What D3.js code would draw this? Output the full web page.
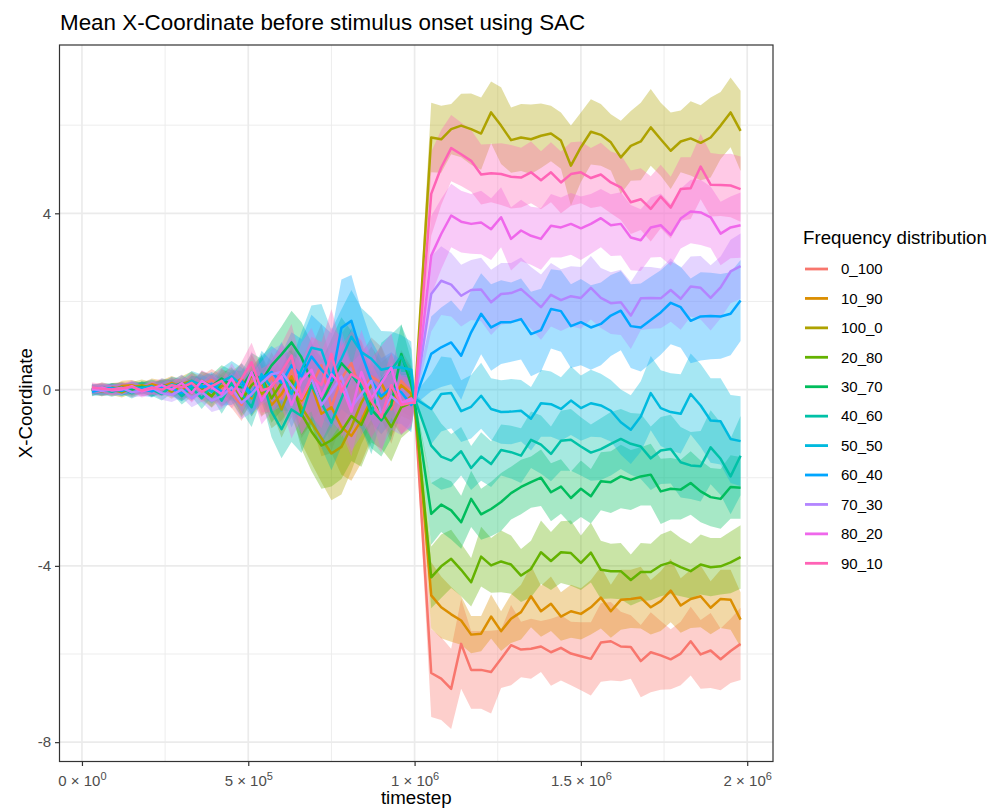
<!DOCTYPE html>
<html>
<head>
<meta charset="utf-8">
<script src="https://cdn.jsdelivr.net/npm/d3@7"></script>
<style>
body { margin: 0; background: #fff; }
text { font-family: "Liberation Sans", Arial, Helvetica, sans-serif; }
</style>
</head>
<body>
<div id="chart-area"></div>
<script>
// DATA
var groups = ['0_100', '10_90', '100_0', '20_80', '30_70', '40_60', '50_50', '60_40', '70_30', '80_20', '90_10'];
var colors = ['#F8766D', '#DB8E00', '#AEA200', '#64B200', '#00BD5C', '#00C1A7', '#00BADE', '#00A6FF', '#B385FF', '#EF67EB', '#FF63B6'];

var yTicks = [-8, -4, 0, 4];
var yMinor = [-6, -2, 2, 6];
var xTicks = [0, 500000, 1000000, 1500000, 2000000];
var xMinor = [250000, 750000, 1250000, 1750000];

var timesteps = [30000, 60000, 90000, 120000, 150000, 180000, 210000, 240000, 270000, 300000,
	330000, 360000, 390000, 420000, 450000, 480000, 510000, 540000, 570000, 600000,
	630000, 660000, 690000, 720000, 750000, 780000, 810000, 840000, 870000, 900000,
	930000, 960000, 990000, 1000000,
	1050000, 1080000, 1110000, 1140000, 1170000, 1200000, 1230000, 1260000, 1290000, 1320000,
	1350000, 1380000, 1410000, 1440000, 1470000, 1500000, 1530000, 1560000, 1590000, 1620000,
	1650000, 1680000, 1710000, 1740000, 1770000, 1800000, 1830000, 1860000, 1890000, 1920000,
	1950000, 1980000];

// mean X-coordinate per group
var mean0_100 = [0.02, -0.05, 0.03, 0.06, -0.02, 0.04, 0.08, 0.05, 0.12, -0.05, 0.18, 0.10, 0.22, 0.05, -0.10, -0.35, 0.20, -0.15, 0.30, -0.20, 0.45, -0.30, 0.10, 0.55, -0.40, 0.25, 0.60, -0.10, 0.30, 0.15, -0.45, 0.20, -0.05, -0.30,
	-6.43, -6.56, -6.79, -5.77, -6.36, -6.36, -6.41, -6.11, -5.80, -5.90, -5.88, -5.83, -5.96, -5.86, -5.99, -6.05, -6.11, -5.74, -5.71, -5.83, -5.84, -6.16, -5.96, -6.03, -6.12, -5.99, -5.71, -6.01, -5.92, -6.12, -5.93, -5.77];
var mean10_90 = [0.00, 0.03, -0.04, 0.08, 0.10, 0.02, 0.12, 0.06, 0.15, 0.05, -0.08, 0.20, 0.08, -0.12, 0.10, 0.25, -0.20, 0.15, -0.35, -0.10, 0.30, -0.25, 0.10, -0.55, -0.40, -0.85, -1.05, -0.70, -0.20, 0.15, -0.30, 0.10, -0.10, -0.25,
	-4.67, -4.94, -5.10, -5.24, -5.56, -5.54, -5.15, -5.48, -5.20, -5.05, -4.69, -5.03, -4.86, -5.15, -5.03, -5.09, -4.94, -4.72, -5.03, -4.77, -4.75, -4.72, -4.94, -4.80, -4.56, -4.90, -4.75, -4.69, -4.95, -4.75, -4.77, -5.22];
var mean100_0 = [-0.03, 0.05, 0.00, -0.06, 0.04, 0.10, 0.03, 0.07, -0.05, 0.12, 0.20, 0.00, -0.15, 0.08, 0.18, -0.20, 0.35, -0.10, 0.10, -0.45, 0.10, -0.40, -0.75, -1.10, -1.45, -1.30, -0.85, -0.30, 0.10, -0.20, 0.05, -0.35, -0.15, -0.30,
	5.72, 5.68, 5.91, 5.99, 5.91, 5.81, 6.29, 5.99, 5.66, 5.72, 5.68, 5.76, 5.81, 5.65, 5.08, 5.50, 5.85, 5.78, 5.61, 5.27, 5.53, 5.63, 5.95, 5.68, 5.42, 5.63, 5.70, 5.60, 5.72, 5.99, 6.29, 5.87];
var mean20_80 = [0.01, -0.03, 0.04, 0.02, -0.05, 0.06, -0.02, 0.09, 0.04, -0.08, 0.12, 0.03, -0.15, 0.18, 0.05, -0.25, 0.10, 0.30, -0.20, 0.15, 0.20, -0.55, -0.95, -1.27, -1.15, -0.95, -0.60, -0.80, -0.30, -0.50, -0.85, -0.40, -0.30, -0.30,
	-4.26, -4.01, -3.84, -4.09, -4.37, -3.79, -3.99, -3.90, -3.97, -4.22, -4.07, -3.69, -3.89, -3.69, -3.71, -3.93, -3.70, -4.09, -4.12, -4.12, -4.32, -4.14, -4.14, -3.99, -3.92, -4.03, -4.12, -3.97, -4.03, -4.01, -3.92, -3.80];
var mean30_70 = [0.00, -0.04, 0.02, 0.05, 0.00, 0.06, -0.03, 0.10, 0.05, 0.15, -0.02, 0.18, 0.08, 0.25, 0.10, 0.05, 0.40, 0.20, 0.55, 0.80, 1.07, 0.73, 0.20, -0.30, 0.15, 0.60, 0.35, 0.05, -0.45, -0.70, -0.35, 0.81, 0.10, -0.25,
	-2.82, -2.61, -2.74, -3.01, -2.48, -2.83, -2.71, -2.55, -2.35, -2.21, -2.10, -2.00, -2.33, -2.20, -2.46, -2.25, -2.42, -2.08, -2.10, -1.97, -2.05, -1.97, -1.93, -2.31, -2.25, -2.27, -2.12, -2.31, -2.44, -2.48, -2.21, -2.23];
var mean40_60 = [0.03, 0.00, -0.05, 0.02, -0.08, 0.05, 0.00, -0.10, 0.08, -0.15, 0.05, -0.20, 0.10, -0.25, 0.15, -0.10, -0.40, 0.30, -0.50, -0.90, -0.45, -0.60, 0.10, -0.30, -0.75, -0.20, 0.35, 0.10, -0.55, 0.20, 0.45, 0.75, 0.30, -0.20,
	-1.27, -1.52, -1.61, -1.40, -1.78, -1.52, -1.69, -1.37, -1.42, -1.50, -1.14, -1.25, -1.46, -1.16, -1.14, -1.29, -1.43, -1.35, -1.23, -1.12, -1.23, -1.29, -1.56, -1.38, -1.35, -1.65, -1.72, -1.74, -1.31, -1.57, -1.97, -1.50];
var mean50_50 = [0.00, 0.04, 0.02, -0.03, 0.06, 0.03, 0.08, 0.00, 0.12, 0.05, 0.20, 0.10, -0.05, 0.18, 0.30, 0.10, -0.15, 0.35, 0.05, 0.40, -0.10, 0.45, 0.95, 0.90, 0.25, 0.70, 1.20, 0.85, 0.70, 0.45, 0.50, 0.50, 0.45, -0.20,
	-0.44, -0.10, -0.08, -0.49, -0.39, -0.14, -0.44, -0.51, -0.50, -0.48, -0.66, -0.31, -0.33, -0.44, -0.25, -0.42, -0.31, -0.36, -0.48, -0.74, -0.91, -0.61, -0.08, -0.42, -0.51, -0.55, -0.10, -0.36, -0.70, -0.72, -1.12, -1.17];
var mean60_40 = [-0.05, 0.00, 0.03, -0.02, 0.05, 0.00, -0.04, 0.06, 0.02, -0.08, 0.10, 0.05, 0.13, -0.05, 0.00, 0.20, -0.10, 0.25, 0.40, 0.15, 0.55, 0.30, 0.75, 0.45, 0.20, 1.40, 1.56, 0.82, 0.20, -0.15, 0.05, -0.06, -0.35, -0.25,
	0.81, 0.96, 1.07, 0.77, 1.30, 1.72, 1.41, 1.53, 1.53, 1.60, 1.26, 1.35, 1.83, 1.78, 1.44, 1.53, 1.41, 1.49, 1.68, 1.79, 1.44, 1.41, 1.58, 1.75, 1.97, 1.87, 1.56, 1.66, 1.67, 1.66, 1.72, 2.02];
var mean70_30 = [0.02, -0.03, 0.00, 0.04, -0.06, -0.02, 0.05, -0.08, -0.12, 0.00, -0.20, -0.05, -0.25, -0.15, 0.05, -0.30, -0.10, 0.15, 0.35, 0.40, 0.10, -0.20, 0.25, -0.35, -0.05, 0.30, -0.40, -0.10, 0.20, -0.55, -0.15, -0.35, -0.25, -0.30,
	2.17, 2.47, 2.38, 2.13, 2.26, 2.27, 1.98, 2.17, 2.19, 2.28, 2.08, 1.87, 2.15, 2.03, 2.12, 2.08, 2.31, 2.08, 1.96, 1.98, 1.68, 2.07, 2.08, 2.07, 2.26, 2.06, 2.34, 2.31, 2.08, 2.32, 2.68, 2.80];
var mean80_20 = [0.00, 0.05, -0.02, 0.00, 0.08, -0.04, 0.02, 0.10, 0.00, 0.15, -0.08, 0.20, 0.05, -0.10, 0.25, -0.15, 0.40, -0.25, 0.10, 0.30, -0.35, 0.20, 0.45, -0.15, 0.35, 0.10, -0.50, 0.40, -0.20, 0.15, 0.50, -0.30, -0.20, -0.30,
	3.04, 3.53, 3.95, 3.81, 3.76, 3.79, 3.64, 3.91, 3.42, 3.61, 3.49, 3.42, 3.72, 3.68, 3.76, 3.66, 3.76, 3.89, 3.73, 3.76, 3.45, 3.39, 3.68, 3.73, 3.51, 3.88, 4.04, 4.02, 3.91, 3.54, 3.68, 3.73];
var mean90_10 = [0.05, 0.02, 0.00, 0.03, 0.06, -0.02, 0.04, 0.00, 0.10, 0.05, 0.15, -0.05, 0.08, 0.20, -0.10, 0.25, 0.62, -0.02, 0.05, 0.40, 0.77, -0.20, 0.30, 0.10, 0.81, -0.05, 0.35, 0.20, -0.25, -0.63, 0.10, -0.35, -0.30, -0.30,
	4.44, 5.04, 5.48, 5.34, 5.19, 4.88, 4.91, 4.89, 4.83, 4.81, 4.93, 4.75, 4.93, 4.70, 4.89, 4.93, 4.80, 4.88, 4.70, 4.59, 4.25, 4.32, 4.10, 4.38, 4.13, 4.55, 4.57, 5.06, 4.65, 4.64, 4.63, 4.55];

// half width of the ribbon per group
var se0_100 = [0.11, 0.10, 0.12, 0.11, 0.12, 0.13, 0.14, 0.14, 0.16, 0.18, 0.20, 0.22, 0.25, 0.28, 0.32, 0.36, 0.42, 0.48, 0.55, 0.62, 0.70, 0.80, 0.86, 0.95, 1.00, 1.02, 0.98, 0.92, 0.88, 0.82, 0.78, 0.70, 0.58, 0.10,
	1.00, 0.94, 0.91, 1.02, 0.88, 0.88, 0.94, 0.66, 0.91, 0.63, 0.68, 0.58, 0.76, 0.74, 0.72, 0.77, 0.83, 0.89, 0.89, 0.79, 0.72, 0.82, 0.91, 0.78, 0.68, 0.72, 0.78, 0.78, 0.85, 0.70, 0.73, 0.82];
var se10_90 = [0.10, 0.11, 0.11, 0.12, 0.12, 0.13, 0.13, 0.15, 0.16, 0.17, 0.19, 0.22, 0.24, 0.27, 0.31, 0.35, 0.41, 0.47, 0.53, 0.60, 0.69, 0.78, 0.88, 0.96, 1.04, 1.08, 1.02, 0.96, 0.90, 0.84, 0.78, 0.70, 0.60, 0.10,
	0.75, 0.70, 0.62, 0.55, 0.42, 0.40, 0.50, 0.45, 0.55, 0.62, 0.70, 0.58, 0.62, 0.55, 0.60, 0.58, 0.62, 0.70, 0.60, 0.68, 0.66, 0.70, 0.62, 0.68, 0.72, 0.62, 0.66, 0.70, 0.60, 0.66, 0.68, 0.62];
var se100_0 = [0.12, 0.11, 0.12, 0.12, 0.13, 0.13, 0.14, 0.15, 0.16, 0.18, 0.21, 0.23, 0.26, 0.29, 0.33, 0.38, 0.44, 0.50, 0.57, 0.64, 0.72, 0.82, 0.92, 1.00, 1.06, 1.08, 1.00, 0.94, 0.88, 0.82, 0.76, 0.68, 0.58, 0.10,
	0.79, 0.76, 0.57, 0.72, 0.81, 0.82, 0.70, 0.87, 0.74, 0.76, 0.79, 0.73, 0.63, 0.64, 0.91, 0.79, 0.74, 0.70, 0.64, 0.83, 0.79, 0.88, 0.87, 0.83, 0.87, 0.70, 0.84, 0.85, 0.91, 0.76, 0.79, 0.91];
var se20_80 = [0.10, 0.10, 0.11, 0.12, 0.12, 0.13, 0.14, 0.14, 0.16, 0.18, 0.20, 0.22, 0.25, 0.28, 0.32, 0.37, 0.42, 0.48, 0.55, 0.62, 0.70, 0.80, 0.90, 0.98, 1.05, 1.08, 1.02, 0.95, 0.90, 0.84, 0.78, 0.70, 0.60, 0.10,
	0.70, 0.72, 0.66, 0.60, 0.55, 0.68, 0.62, 0.70, 0.66, 0.60, 0.64, 0.72, 0.66, 0.70, 0.74, 0.62, 0.68, 0.66, 0.62, 0.64, 0.58, 0.66, 0.64, 0.70, 0.72, 0.66, 0.62, 0.68, 0.66, 0.64, 0.70, 0.72];
var se30_70 = [0.11, 0.11, 0.12, 0.11, 0.13, 0.12, 0.14, 0.15, 0.17, 0.18, 0.21, 0.23, 0.26, 0.30, 0.34, 0.38, 0.43, 0.50, 0.56, 0.63, 0.72, 0.80, 0.88, 0.94, 1.00, 1.04, 0.98, 0.94, 0.88, 0.82, 0.76, 0.68, 0.56, 0.10,
	0.70, 0.62, 0.66, 0.60, 0.64, 0.58, 0.62, 0.66, 0.60, 0.62, 0.58, 0.64, 0.66, 0.62, 0.60, 0.64, 0.62, 0.66, 0.70, 0.72, 0.68, 0.66, 0.70, 0.74, 0.70, 0.68, 0.72, 0.70, 0.66, 0.68, 0.72, 0.70];
var se40_60 = [0.10, 0.11, 0.11, 0.12, 0.12, 0.14, 0.14, 0.15, 0.17, 0.19, 0.21, 0.24, 0.27, 0.30, 0.34, 0.39, 0.45, 0.52, 0.58, 0.66, 0.74, 0.84, 0.94, 1.02, 1.08, 1.10, 1.04, 0.98, 0.92, 0.86, 0.80, 0.72, 0.62, 0.10,
	0.85, 0.75, 0.60, 0.55, 0.50, 0.55, 0.52, 0.58, 0.60, 0.62, 0.64, 0.66, 0.62, 0.68, 0.70, 0.66, 0.64, 0.70, 0.72, 0.68, 0.70, 0.74, 0.72, 0.76, 0.78, 0.80, 0.76, 0.80, 0.84, 0.82, 0.86, 0.90];
var se50_50 = [0.11, 0.10, 0.12, 0.12, 0.13, 0.13, 0.15, 0.15, 0.17, 0.19, 0.22, 0.24, 0.27, 0.31, 0.35, 0.40, 0.46, 0.53, 0.60, 0.68, 0.76, 0.86, 0.96, 1.04, 1.10, 1.12, 1.06, 1.00, 0.94, 0.88, 0.82, 0.74, 0.64, 0.10,
	0.80, 0.85, 0.80, 0.70, 0.72, 0.75, 0.70, 0.72, 0.74, 0.70, 0.72, 0.76, 0.74, 0.72, 0.78, 0.74, 0.76, 0.72, 0.70, 0.74, 0.78, 0.80, 0.84, 0.86, 0.88, 0.90, 0.92, 0.94, 0.96, 0.98, 1.00, 1.02];
var se60_40 = [0.10, 0.11, 0.11, 0.12, 0.13, 0.13, 0.14, 0.15, 0.17, 0.19, 0.21, 0.24, 0.27, 0.31, 0.35, 0.40, 0.46, 0.52, 0.59, 0.67, 0.75, 0.85, 0.95, 1.03, 1.08, 1.10, 1.04, 0.98, 0.92, 0.86, 0.80, 0.72, 0.62, 0.10,
	0.85, 0.90, 0.95, 1.00, 0.95, 0.92, 0.98, 0.95, 0.90, 0.92, 0.96, 0.94, 0.90, 0.92, 0.95, 0.98, 0.96, 0.94, 0.92, 0.90, 0.95, 1.00, 0.98, 0.96, 0.94, 0.92, 0.96, 1.00, 0.98, 0.96, 0.94, 0.92];
var se70_30 = [0.11, 0.11, 0.12, 0.12, 0.12, 0.13, 0.14, 0.15, 0.16, 0.18, 0.20, 0.23, 0.26, 0.29, 0.33, 0.37, 0.43, 0.49, 0.56, 0.63, 0.71, 0.81, 0.90, 0.98, 1.04, 1.06, 1.00, 0.94, 0.88, 0.82, 0.76, 0.68, 0.58, 0.10,
	0.85, 0.78, 0.72, 0.70, 0.68, 0.72, 0.74, 0.70, 0.68, 0.72, 0.70, 0.74, 0.72, 0.70, 0.68, 0.70, 0.72, 0.68, 0.70, 0.74, 0.76, 0.72, 0.70, 0.68, 0.72, 0.70, 0.68, 0.72, 0.74, 0.70, 0.72, 0.74];
var se80_20 = [0.10, 0.11, 0.12, 0.12, 0.13, 0.14, 0.14, 0.16, 0.17, 0.19, 0.22, 0.24, 0.28, 0.31, 0.35, 0.40, 0.47, 0.54, 0.61, 0.68, 0.76, 0.86, 0.95, 1.02, 1.06, 1.08, 1.02, 0.96, 0.90, 0.84, 0.78, 0.70, 0.60, 0.10,
	0.90, 0.80, 0.72, 0.70, 0.68, 0.72, 0.70, 0.68, 0.72, 0.70, 0.66, 0.70, 0.72, 0.68, 0.70, 0.72, 0.68, 0.66, 0.70, 0.72, 0.74, 0.70, 0.68, 0.72, 0.70, 0.68, 0.72, 0.74, 0.70, 0.72, 0.70, 0.74];
var se90_10 = [0.11, 0.11, 0.11, 0.12, 0.12, 0.13, 0.14, 0.15, 0.16, 0.18, 0.21, 0.23, 0.26, 0.29, 0.33, 0.38, 0.44, 0.50, 0.56, 0.64, 0.72, 0.82, 0.90, 0.98, 1.02, 1.04, 0.98, 0.92, 0.86, 0.80, 0.74, 0.66, 0.56, 0.10,
	0.95, 0.85, 0.75, 0.72, 0.70, 0.68, 0.66, 0.70, 0.72, 0.68, 0.70, 0.66, 0.68, 0.70, 0.72, 0.70, 0.68, 0.72, 0.70, 0.74, 0.72, 0.70, 0.74, 0.72, 0.70, 0.72, 0.70, 0.74, 0.72, 0.70, 0.72, 0.74];

var meanList = [mean0_100, mean10_90, mean100_0, mean20_80, mean30_70, mean40_60, mean50_50, mean60_40, mean70_30, mean80_20, mean90_10];
var seList = [se0_100, se10_90, se100_0, se20_80, se30_70, se40_60, se50_50, se60_40, se70_30, se80_20, se90_10];

var series = groups.map(function (g, i) {
	return {
		name: g,
		color: colors[i],
		values: timesteps.map(function (t, j) {
			return { t: t, m: meanList[i][j], lo: meanList[i][j] - seList[i][j], hi: meanList[i][j] + seList[i][j] };
		})
	};
});

//INITIAL SETUP
var margin = { top: 45, left: 59.5 };
var width = 713.5;
var height = 716.5;

var svg = d3.select('#chart-area')
	.append('svg')
	.attr('width', 987)
	.attr('height', 811);

var graph = svg.append('g')
	.attr('transform', 'translate(' + margin.left + ',' + margin.top + ')');

//SCALES (ggplot style 5% expansion)
var xExt = d3.extent(timesteps);
var xPad = (xExt[1] - xExt[0]) * 0.05;
var x = d3.scaleLinear()
	.domain([xExt[0] - xPad, xExt[1] + xPad])
	.range([0, width]);

var yMin = d3.min(series, function (s) { return d3.min(s.values, function (d) { return d.lo; }); });
var yMax = d3.max(series, function (s) { return d3.max(s.values, function (d) { return d.hi; }); });
var yPad = (yMax - yMin) * 0.05;
var y = d3.scaleLinear()
	.domain([yMin - yPad, yMax + yPad])
	.range([height, 0]);

//GRID
graph.append('rect')
	.attr('width', width)
	.attr('height', height)
	.attr('fill', '#fff');

graph.selectAll('.ygrid-minor').data(yMinor).enter().append('line')
	.attr('x1', 0).attr('x2', width)
	.attr('y1', function (d) { return y(d); }).attr('y2', function (d) { return y(d); })
	.attr('stroke', '#EBEBEB').attr('stroke-width', 0.9);
graph.selectAll('.xgrid-minor').data(xMinor).enter().append('line')
	.attr('y1', 0).attr('y2', height)
	.attr('x1', function (d) { return x(d); }).attr('x2', function (d) { return x(d); })
	.attr('stroke', '#EBEBEB').attr('stroke-width', 0.9);
graph.selectAll('.ygrid').data(yTicks).enter().append('line')
	.attr('x1', 0).attr('x2', width)
	.attr('y1', function (d) { return y(d); }).attr('y2', function (d) { return y(d); })
	.attr('stroke', '#EBEBEB').attr('stroke-width', 1.7);
graph.selectAll('.xgrid').data(xTicks).enter().append('line')
	.attr('y1', 0).attr('y2', height)
	.attr('x1', function (d) { return x(d); }).attr('x2', function (d) { return x(d); })
	.attr('stroke', '#EBEBEB').attr('stroke-width', 1.7);

//RIBBONS
var area = d3.area()
	.x(function (d) { return x(d.t); })
	.y0(function (d) { return y(d.lo); })
	.y1(function (d) { return y(d.hi); });

graph.selectAll('.ribbon').data(series).enter().append('path')
	.attr('class', 'ribbon')
	.attr('d', function (s) { return area(s.values); })
	.attr('fill', function (s) { return s.color; })
	.attr('fill-opacity', 0.35);

//LINES
var line = d3.line()
	.x(function (d) { return x(d.t); })
	.y(function (d) { return y(d.m); });

graph.selectAll('.series').data(series).enter().append('path')
	.attr('class', 'series')
	.attr('d', function (s) { return line(s.values); })
	.attr('fill', 'none')
	.attr('stroke', function (s) { return s.color; })
	.attr('stroke-width', 2.5)
	.attr('stroke-linejoin', 'round');

//PANEL BORDER
graph.append('rect')
	.attr('width', width)
	.attr('height', height)
	.attr('fill', 'none')
	.attr('stroke', '#333333')
	.attr('stroke-width', 1.2);

//AXES
var yAxis = d3.axisLeft(y)
	.tickValues(yTicks)
	.tickSize(4.5)
	.tickPadding(4)
	.tickFormat(function (d) { return String(d); });
var yAxisGroup = graph.append('g').call(yAxis);
yAxisGroup.select('.domain').remove();
yAxisGroup.selectAll('line').attr('stroke', '#333333').attr('stroke-width', 1.2);
yAxisGroup.selectAll('text')
	.attr('fill', '#4D4D4D')
	.style('font-size', '15px')
	.style('font-family', '"Liberation Sans", Arial, sans-serif');

var xAxis = d3.axisBottom(x)
	.tickValues(xTicks)
	.tickSize(4.5)
	.tickPadding(6)
	.tickFormat('');
var xAxisGroup = graph.append('g')
	.attr('transform', 'translate(0,' + height + ')')
	.call(xAxis);
xAxisGroup.select('.domain').remove();
xAxisGroup.selectAll('line').attr('stroke', '#333333').attr('stroke-width', 1.2);

xAxisGroup.selectAll('.tick').each(function (d) {
	var exp = d === 0 ? 0 : Math.floor(Math.log10(d));
	var mant = d === 0 ? 0 : d / Math.pow(10, exp);
	var t = d3.select(this).select('text')
		.attr('y', 24)
		.attr('dy', null)
		.attr('fill', '#4D4D4D')
		.style('font-size', '15px')
		.style('font-family', '"Liberation Sans", Arial, sans-serif')
		.attr('text-anchor', 'middle');
	t.append('tspan').text(mant + ' \u00D7 10');
	t.append('tspan')
		.attr('dy', -6)
		.style('font-size', '11px')
		.text(exp);
});

//LABELS
svg.append('text')
	.attr('x', 60)
	.attr('y', 30)
	.attr('font-size', '22.4px')
	.attr('fill', '#000')
	.text('Mean X-Coordinate before stimulus onset using SAC');

svg.append('text')
	.attr('x', margin.left + width / 2)
	.attr('y', 804)
	.attr('font-size', '18.7px')
	.attr('text-anchor', 'middle')
	.attr('fill', '#000')
	.text('timestep');

svg.append('text')
	.attr('transform', 'translate(32,' + (margin.top + height / 2) + ') rotate(-90)')
	.attr('font-size', '18.7px')
	.attr('text-anchor', 'middle')
	.attr('fill', '#000')
	.text('X-Coordinate');

//LEGEND
var legend = svg.append('g');
legend.append('text')
	.attr('x', 803)
	.attr('y', 243.5)
	.attr('font-size', '18.7px')
	.attr('fill', '#000')
	.text('Frequency distribution');

var keys = legend.selectAll('.key').data(series).enter().append('g')
	.attr('transform', function (s, i) { return 'translate(0,' + (269 + i * 29.43) + ')'; });
keys.append('line')
	.attr('x1', 805).attr('x2', 828)
	.attr('stroke', function (s) { return s.color; })
	.attr('stroke-width', 2.8);
keys.append('text')
	.attr('x', 841)
	.attr('dy', '0.35em')
	.attr('font-size', '15px')
	.attr('fill', '#000')
	.text(function (s) { return s.name; });
</script>
</body>
</html>
